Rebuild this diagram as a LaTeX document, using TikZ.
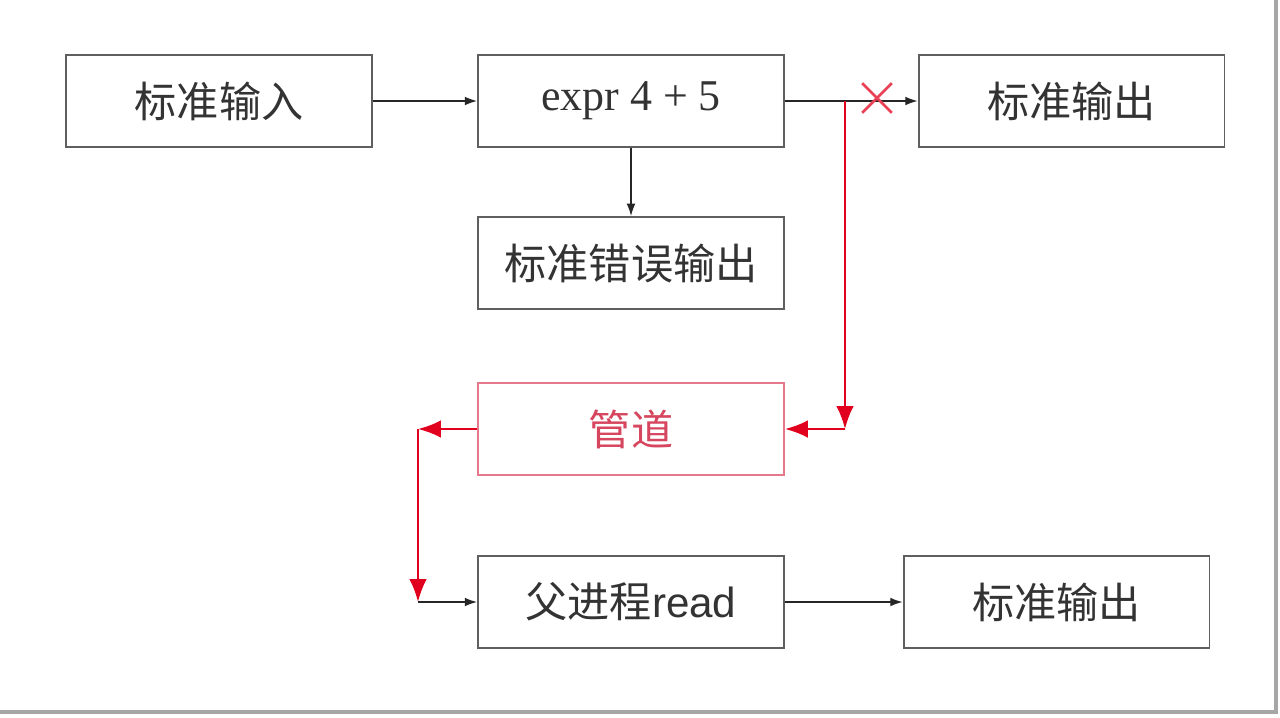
\documentclass[tikz,border=0pt]{standalone}
\usepackage{fontspec}
\setmainfont{Liberation Serif}
\newfontfamily\cjk{Noto Sans CJK SC}
\newfontfamily\arialf{Liberation Sans}
\usetikzlibrary{arrows.meta}
\definecolor{boxgray}{RGB}{95,95,95}
\definecolor{pipered}{RGB}{225,0,30}
\definecolor{pipepink}{RGB}{230,120,140}
\definecolor{pipetext}{RGB}{215,70,95}
\begin{document}
\begin{tikzpicture}[x=0.02cm,y=-0.02cm,
  blk/.style={draw=boxgray,line width=1.1pt,minimum width=6.12cm,minimum height=1.84cm,inner sep=0pt,font=\cjk\fontsize{24}{28}\selectfont,text=black!80},
  blackarrow/.style={draw=black!85,line width=0.8pt,-{Latex[length=7pt,width=5pt]}},
  redarrow/.style={draw=pipered,line width=1.3pt,-{Latex[length=13pt,width=10pt]}}]
\useasboundingbox (0,0) rectangle (1280,717);
\fill[white] (0,0) rectangle (1280,717);
\draw[gray!70,line width=2.5pt] (1276,0) -- (1276,712) -- (0,712);
\node[blk] (in) at (219,101) {标准输入};
\node[blk] (expr) at (631,101) {\fontsize{25}{28}\selectfont\rmfamily\raisebox{-2pt}{expr 4 + 5}};
\node[blk] (out1) at (1071.5,101) {标准输出};
\node[blk] (err) at (631,263) {标准错误输出};
\node[blk,draw=pipepink,text=pipetext] (pipe) at (631,429) {管道};
\node[blk] (parent) at (631,602) {父进程{\arialf read}};
\node[blk] (out2) at (1056.5,602) {标准输出};
\coordinate (br) at (845,101);
\coordinate (bc) at (845,429);
\coordinate (lc) at (418,429);
\coordinate (ld) at (418,602);
\draw[blackarrow] (in) -- (expr);
\draw[blackarrow] (expr) -- (out1);
\draw[blackarrow] (expr) -- (err);
\draw[blackarrow] (parent) -- (out2);
\draw[redarrow] (br) -- (bc);
\draw[redarrow] (bc) -- (pipe.east);
\draw[redarrow] (pipe.west) -- (lc);
\draw[redarrow] (lc) -- (ld);
\draw[blackarrow] (ld) -- (parent.west);
\node[inner sep=0pt,minimum size=0.58cm] (x) at (877,98) {};
\draw[pipered!75,line width=1.5pt] (x.north west) -- (x.south east) (x.north east) -- (x.south west);
\end{tikzpicture}
\end{document}
